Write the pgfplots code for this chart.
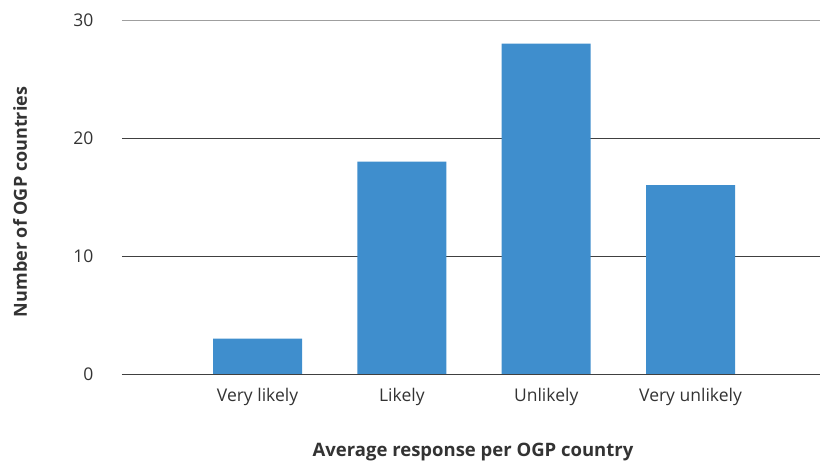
\documentclass[border=0pt]{standalone}
\usepackage{pgfplots}
\pgfplotsset{compat=1.18}
\usepackage{fontspec}
\setmainfont{Open Sans}
\definecolor{barblue}{HTML}{3F8ECD}
\definecolor{txt}{HTML}{333333}
\begin{document}
\begin{tikzpicture}[x=1pt,y=1pt]
\path[use as bounding box] (-122,-94) rectangle (698,374);
\begin{axis}[
  at={(0,0)}, anchor=origin,
  scale only axis, width=698pt, height=354pt,
  xmin=0.061, xmax=4.897, ymin=0, ymax=30,
  axis line style={draw=none},
  axis x line*=bottom,
  ytick={0,10,20}, extra y ticks={30},
  extra y tick style={grid style={draw=gray!75, line width=0.9pt}},
  ymajorgrids, grid style={draw=black!75, line width=0.6pt},
  major tick length=0pt,
  xtick={1,2,3,4},
  xticklabels={Very likely, Likely, Unlikely, Very unlikely},
  tick label style={font=\fontsize{17.5}{20}\selectfont, text=txt},
  yticklabel style={anchor=east, xshift=-25pt},
  xticklabel style={anchor=center, yshift=-23pt},
  /pgf/number format/assume math mode=true,
  ybar, bar width=89pt,
  xlabel={\textbf{Average response per OGP country}},
  label style={font=\fontsize{18.5}{21}\selectfont, text=txt},
  xlabel style={at={(axis description cs:0,0)}, anchor=center, xshift=351pt, yshift=-78pt},
]
\addplot[fill=barblue, draw=none] coordinates {(1,3) (2,18) (3,28) (4,16)};
\end{axis}
\draw[black!75, line width=0.7pt] (0,0) -- (698,0);
\node[rotate=90, text=txt, font=\fontsize{18}{21}\selectfont\bfseries] at (-102,172) {Number of OGP countries};
\end{tikzpicture}
\end{document}
